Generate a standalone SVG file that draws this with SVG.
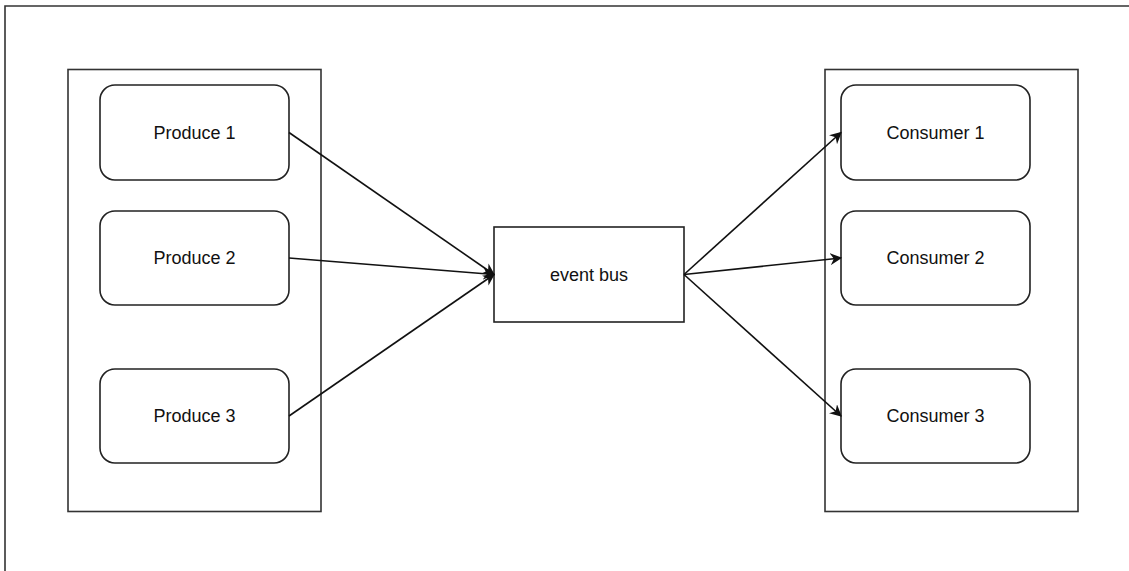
<svg xmlns="http://www.w3.org/2000/svg" width="1129" height="571" viewBox="0 0 1129 571">
<style>
.frame{fill:none;stroke:#333;stroke-width:1.6}
.box{fill:#fff;stroke:#222;stroke-width:1.6}
.lbl{font-family:"Liberation Sans",Arial,sans-serif;font-size:18px;fill:#111;text-anchor:middle;dominant-baseline:central}
.edge{fill:none;stroke:#111;stroke-width:1.6;marker-end:url(#arr)}
</style>
<defs>
<marker id="arr" viewBox="0 0 10 10" refX="9" refY="5" markerWidth="12" markerHeight="12" markerUnits="userSpaceOnUse" orient="auto">
<path d="M0,0 L10,5 L0,10 L3,5 Z" fill="#111"/>
</marker>
</defs>
<rect width="1129" height="571" fill="#fff"/>
<path class="frame" d="M5,571 L5,6 L1129,6"/>
<g id="producers"><rect class="frame" x="68" y="69.5" width="253" height="442"/></g>
<g id="consumers"><rect class="frame" x="825" y="69.5" width="253" height="442"/></g>
<g id="produce1"><rect class="box" x="100" y="85" width="189" height="95" rx="15"/><text class="lbl" x="194.5" y="132.5">Produce 1</text></g>
<g id="produce2"><rect class="box" x="100" y="211" width="189" height="94" rx="15"/><text class="lbl" x="194.5" y="258">Produce 2</text></g>
<g id="produce3"><rect class="box" x="100" y="369" width="189" height="94" rx="15"/><text class="lbl" x="194.5" y="416">Produce 3</text></g>
<g id="eventbus"><rect class="box" x="494" y="227" width="190" height="95"/><text class="lbl" x="589" y="274.5">event bus</text></g>
<g id="consumer1"><rect class="box" x="841" y="85" width="189" height="95" rx="15"/><text class="lbl" x="935.5" y="132.5">Consumer 1</text></g>
<g id="consumer2"><rect class="box" x="841" y="211" width="189" height="94" rx="15"/><text class="lbl" x="935.5" y="258">Consumer 2</text></g>
<g id="consumer3"><rect class="box" x="841" y="369" width="189" height="94" rx="15"/><text class="lbl" x="935.5" y="416">Consumer 3</text></g>
<g id="connectors">
<line class="edge" x1="289" y1="132.5" x2="494" y2="274.5"/>
<line class="edge" x1="289" y1="258" x2="494" y2="274.5"/>
<line class="edge" x1="289" y1="416" x2="494" y2="274.5"/>
<line class="edge" x1="684" y1="274.5" x2="841" y2="132.5"/>
<line class="edge" x1="684" y1="274.5" x2="841" y2="258"/>
<line class="edge" x1="684" y1="274.5" x2="841" y2="416"/>
</g>
</svg>
